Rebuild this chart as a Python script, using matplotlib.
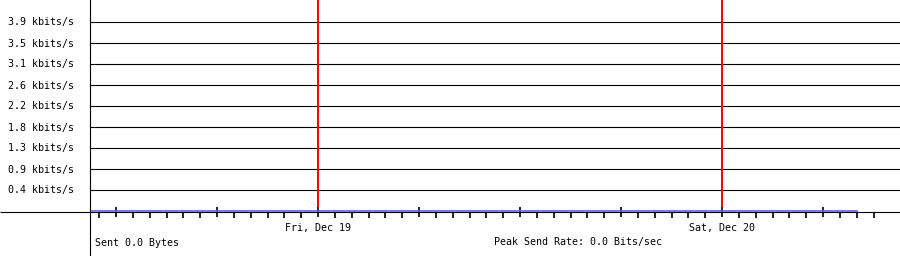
import matplotlib
matplotlib.use("Agg")
import matplotlib.pyplot as plt
from matplotlib.ticker import FixedLocator, NullFormatter

# ---- data (hours since Thu Dec 18 00:00) ----
sent_times = [10.5, 56.1]
sent_rate_kbits = [0.0, 0.0]
day_hours = [24, 48]
day_labels = ["Fri, Dec 19", "Sat, Dec 20"]
major_hours = [12, 18, 24, 30, 36, 42, 48, 54]
minor_hours = list(range(11, 58))
ytick_values = [0.4375, 0.875, 1.3125, 1.75, 2.1875, 2.625, 3.0625, 3.5, 3.9375]
ytick_labels = ["0.4 kbits/s", "0.9 kbits/s", "1.3 kbits/s", "1.8 kbits/s",
                "2.2 kbits/s", "2.6 kbits/s", "3.1 kbits/s", "3.5 kbits/s",
                "3.9 kbits/s"]
sent_total = "Sent 0.0 Bytes"
peak_text = "Peak Send Rate: 0.0 Bits/sec"

W, H = 900, 256
FONT = dict(family="DejaVu Sans Mono", size=7.2, color="black")

fig = plt.figure(figsize=(W / 100, H / 100), dpi=100)
fig.patch.set_facecolor("white")
# plot area: x 90..900 px, y 0..211 px (from top)
ax = fig.add_axes([90 / W, (H - 211.5) / H, 810 / W, 211.5 / H])
ax.set_facecolor("white")

px_per_hour = (722 - 318) / 24.0
x0 = 24 - (318 - 90) / px_per_hour
x1 = 24 + (900 - 318) / px_per_hour
ax.set_xlim(x0, x1)
kb_per_px = 0.4375 / 21
ax.set_ylim(-kb_per_px, -kb_per_px + 211.5 * kb_per_px)

for s in ["top", "right"]:
    ax.spines[s].set_visible(False)
ax.spines["left"].set_linewidth(0.8)
ax.spines["bottom"].set_linewidth(0.8)
ax.spines["left"].set_color("black")
ax.spines["bottom"].set_color("black")

# extend axis lines beyond the plot area
ax.plot([0, 0], [0, -45 / 211.5], transform=ax.transAxes, color="black",
        lw=0.8, clip_on=False, solid_capstyle="butt")
ax.plot([-90 / 810, 0], [0, 0], transform=ax.transAxes, color="black",
        lw=0.8, clip_on=False, solid_capstyle="butt")

# y grid + labels
ax.yaxis.set_major_locator(FixedLocator(ytick_values))
ax.set_yticklabels(ytick_labels, **FONT)
ax.tick_params(axis="y", length=0, pad=11.5)
ax.grid(axis="y", color="black", lw=0.8)
ax.set_axisbelow(True)

# x ticks
ax.xaxis.set_major_locator(FixedLocator(major_hours))
ax.xaxis.set_minor_locator(FixedLocator(minor_hours))
ax.xaxis.set_major_formatter(NullFormatter())
ax.xaxis.set_minor_formatter(NullFormatter())
ax.tick_params(axis="x", which="major", direction="inout", length=7.7,
               width=1.2, color="black")
ax.tick_params(axis="x", which="minor", direction="out", length=4.0,
               width=1.2, color="black")

# day boundary lines
for d in day_hours:
    ax.axvline(d, ymin=5.5 / 211.5, ymax=1, color="#ff0000", lw=1.4, zorder=3)

# day labels
for d, lab in zip(day_hours, day_labels):
    ax.text(d, -17 * kb_per_px, lab, ha="center", va="center",
            clip_on=False, **FONT)

# sent series
ax.plot(sent_times, sent_rate_kbits, color="#6060e0", lw=1.2, zorder=4,
        solid_capstyle="butt")

fig.text(95 / W, 1 - 243 / H, sent_total, ha="left", va="center", **FONT)
fig.text(494 / W, 1 - 242.5 / H, peak_text, ha="left", va="center", **FONT)

fig.savefig("out.png", dpi=100, facecolor="white")
